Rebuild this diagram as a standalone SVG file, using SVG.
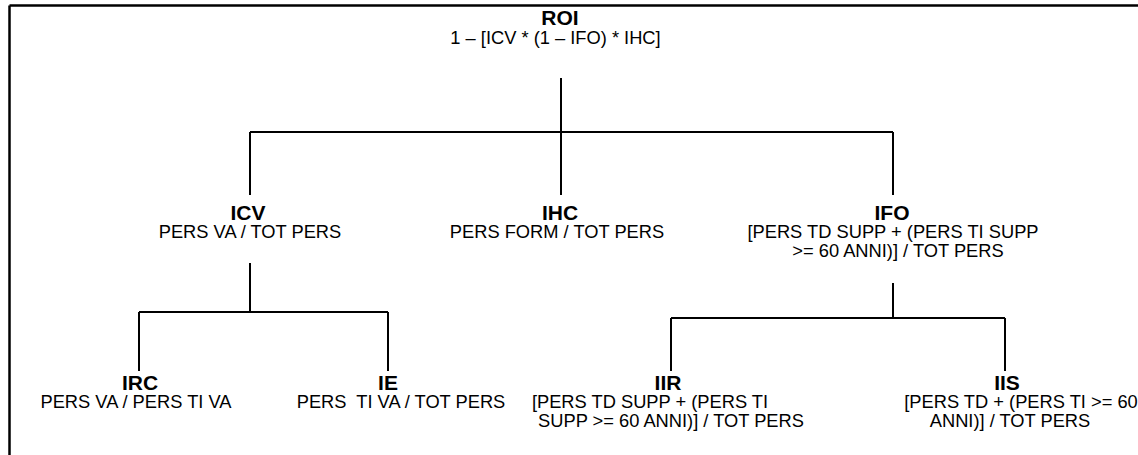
<svg xmlns="http://www.w3.org/2000/svg" width="1138" height="455" viewBox="0 0 1138 455">
<style>
text{font-family:"Liberation Sans",Arial,sans-serif;fill:#000;text-anchor:middle;white-space:pre}
.t{font-weight:bold;font-size:21px}
.d{font-size:18.3px}
.c line{stroke:#000;stroke-width:2;fill:none}
.f line{stroke:#000;stroke-width:2.5}
</style>
<rect width="1138" height="455" fill="#fff"/>
<g id="frame" class="f">
<line x1="9.5" y1="5.5" x2="1138" y2="5.5"/>
<line x1="9.5" y1="5.5" x2="9.5" y2="455"/>
</g>
<g id="connectors" class="c">
<line x1="561" y1="78" x2="561" y2="132"/>
<line x1="250" y1="132" x2="893" y2="132"/>
<line x1="250" y1="132" x2="250" y2="195"/>
<line x1="561" y1="132" x2="561" y2="195"/>
<line x1="893" y1="132" x2="893" y2="195"/>
<line x1="250" y1="263" x2="250" y2="312"/>
<line x1="139" y1="312" x2="388" y2="312"/>
<line x1="139" y1="312" x2="139" y2="371"/>
<line x1="388" y1="312" x2="388" y2="371"/>
<line x1="893" y1="283" x2="893" y2="318"/>
<line x1="671" y1="318" x2="1005" y2="318"/>
<line x1="671" y1="318" x2="671" y2="371"/>
<line x1="1005" y1="318" x2="1005" y2="371"/>
</g>
<g id="ROI"><text class="t" x="560" y="25">ROI</text><text class="d" x="555.5" y="44">1 – [ICV * (1 – IFO) * IHC]</text></g>
<g id="ICV"><text class="t" x="248" y="220">ICV</text><text class="d" x="250" y="238">PERS VA / TOT PERS</text></g>
<g id="IHC"><text class="t" x="560" y="220">IHC</text><text class="d" x="557" y="238">PERS FORM / TOT PERS</text></g>
<g id="IFO"><text class="t" x="892" y="220">IFO</text><text class="d" x="893" y="238">[PERS TD SUPP + (PERS TI SUPP</text><text class="d" x="898" y="257">&gt;= 60 ANNI)] / TOT PERS</text></g>
<g id="IRC"><text class="t" x="140" y="390">IRC</text><text class="d" x="136" y="408">PERS VA / PERS TI VA</text></g>
<g id="IE"><text class="t" x="388" y="390">IE</text><text class="d" x="401" y="408">PERS  TI VA / TOT PERS</text></g>
<g id="IIR"><text class="t" x="668" y="390">IIR</text><text class="d" x="650" y="408">[PERS TD SUPP + (PERS TI</text><text class="d" x="671" y="427">SUPP &gt;= 60 ANNI)] / TOT PERS</text></g>
<g id="IIS"><text class="t" x="1007" y="390">IIS</text><text class="d" x="1021" y="408">[PERS TD + (PERS TI &gt;= 60</text><text class="d" x="1010" y="427">ANNI)] / TOT PERS</text></g>
</svg>
